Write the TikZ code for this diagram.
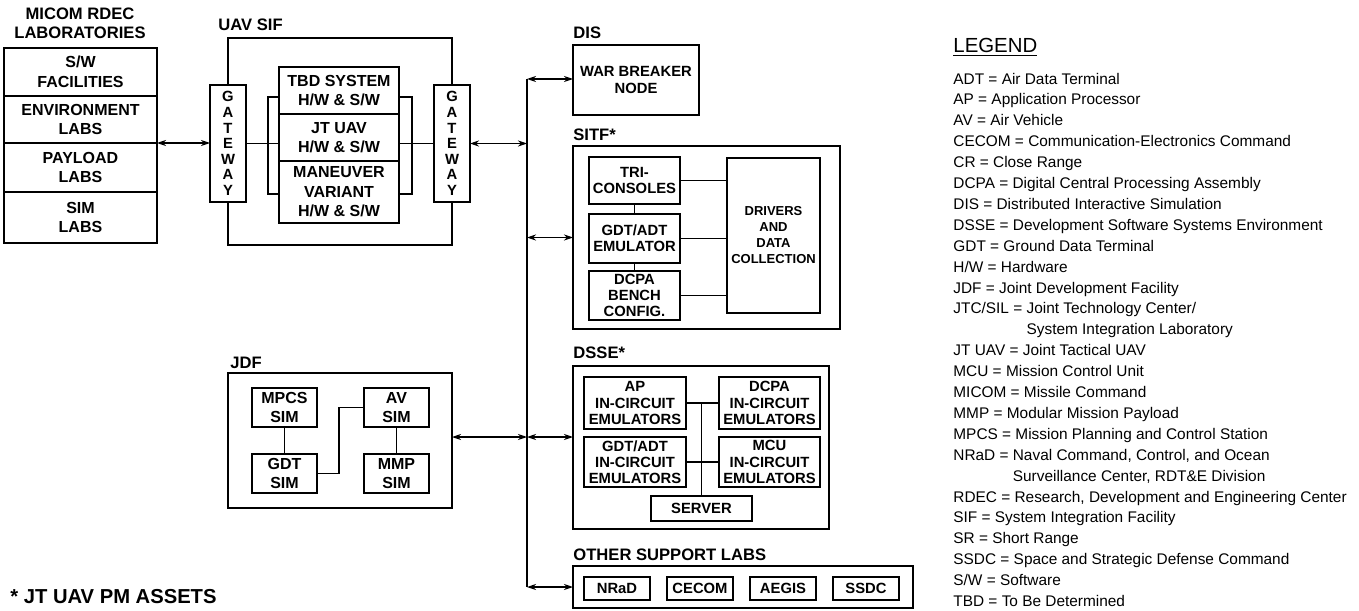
\documentclass[tikz,border=0pt]{standalone}
\usepackage{fontspec}
\setmainfont{Liberation Sans}
\usetikzlibrary{arrows.meta,positioning}

\newcommand{\ttlfont}{\fontsize{8.3}{9.6}\selectfont\bfseries}
\newcommand{\labfont}{\fontsize{8}{9.8}\selectfont\bfseries}
\newcommand{\boxfont}{\fontsize{7.4}{8.1}\selectfont\bfseries}
\newcommand{\gatefont}{\fontsize{7.4}{7.8}\selectfont\bfseries}
\newcommand{\drvfont}{\fontsize{6.5}{8}\selectfont\bfseries}
\newcommand{\legfont}{\fontsize{7.7}{10.45}\selectfont}

\begin{document}
\begin{tikzpicture}[x=0.5pt, y=-0.5pt,
  ttl/.style={anchor=west, font=\ttlfont, inner sep=0pt},
  grp/.style={draw, line width=0.75pt, inner sep=0pt, outer sep=0pt},
  unit/.style={draw, line width=0.75pt, fill=white, align=center,
               inner sep=0pt, outer sep=0pt, font=\boxfont},
  labcell/.style={unit, minimum width=76.5pt, font=\labfont},
  wire/.style={line width=0.55pt},
  arr/.style={{Stealth[length=4.5pt,width=3pt]}-{Stealth[length=4.5pt,width=3pt]},
              line width=0.55pt}
]
\useasboundingbox (0,0) rectangle (1359,610);

% MICOM RDEC labs
\node[font=\ttlfont, align=center, inner sep=0pt] (micomttl) at (80,23)
  {MICOM RDEC\\LABORATORIES};
\node[labcell, minimum height=24pt] (sw) at (80.5,72) {S/W\\FACILITIES};
\node[labcell, minimum height=23.5pt, below=0pt of sw] (env) {ENVIRONMENT\\LABS};
\node[labcell, minimum height=24.5pt, below=0pt of env] (pay) {PAYLOAD\\LABS};
\node[labcell, minimum height=25.5pt, below=0pt of pay] (sim) {SIM\\LABS};

% UAV SIF
\node[ttl] (uavttl) at (218,25) {UAV SIF};
\node[grp, minimum width=112pt, minimum height=103.5pt] (uav) at (340,141.5) {};
\node[unit, minimum width=18pt, minimum height=58.5pt, font=\gatefont] (gwl) at (228,143.5)
  {G\\A\\T\\E\\W\\A\\Y};
\node[unit, minimum width=18pt, minimum height=58.5pt, font=\gatefont] (gwr) at (452,143.5)
  {G\\A\\T\\E\\W\\A\\Y};
\node[unit, minimum width=60pt, minimum height=23.5pt, font=\labfont] (tbd) at (339,90.5)
  {TBD SYSTEM\\H/W \& S/W};
\node[unit, minimum width=60pt, minimum height=23.5pt, font=\labfont, below=0pt of tbd] (jtuav)
  {JT UAV\\H/W \& S/W};
\node[unit, minimum width=60pt, minimum height=31pt, font=\labfont, below=0pt of jtuav] (manv)
  {MANEUVER\\VARIANT\\H/W \& S/W};
\draw[wire] (tbd.west |- 0,97) -- (268,97) -- (268,194) -- (manv.west |- 0,194);
\draw[wire] (tbd.east |- 0,97) -- (412,97) -- (412,194) -- (manv.east |- 0,194);
\draw[wire] (gwl.east) -- (gwl.east -| jtuav.west);
\draw[wire] (jtuav.east |- gwr.west) -- (gwr.west);
\draw[arr] (env.south east) -- (env.south east -| gwl.west);

% bus
\coordinate (bus) at (527,79);
\coordinate (busend) at (527,587);
\draw[wire] (bus) -- (busend);
\draw[arr] (gwr.east) -- (gwr.east -| bus);

% DIS
\node[ttl] (disttl) at (573,33) {DIS};
\node[unit, minimum width=63pt, minimum height=35pt] (dis) at (636,80) {WAR BREAKER\\NODE};
\draw[arr] (bus) -- (bus -| dis.west);

% SITF
\node[ttl] (sitfttl) at (573,135) {SITF*};
\node[grp, minimum width=133.5pt, minimum height=91.5pt] (sitf) at (706.5,237.5) {};
\node[unit, minimum width=45.5pt, minimum height=23.5pt] (tri) at (634.5,180.5) {TRI-\\CONSOLES};
\node[unit, minimum width=45.5pt, minimum height=24.5pt, below=5pt of tri] (gdtemu)
  {GDT/ADT\\EMULATOR};
\node[unit, minimum width=45.5pt, minimum height=24.5pt, below=4pt of gdtemu] (bench)
  {DCPA\\BENCH\\CONFIG.};
\node[unit, minimum width=46.5pt, minimum height=77.5pt, font=\drvfont] (drv) at (773.5,235.5)
  {DRIVERS\\AND\\DATA\\COLLECTION};
\draw[wire] (tri.south) -- (gdtemu.north);
\draw[wire] (gdtemu.south) -- (bench.north);
\draw[wire] (tri.east) -- (tri.east -| drv.west);
\draw[wire] (gdtemu.east) -- (gdtemu.east -| drv.west);
\draw[wire] (bench.east) -- (bench.east -| drv.west);
\draw[arr] (bus |- sitf.west) -- (sitf.west);

% DSSE
\node[ttl] (dssettl) at (573,353) {DSSE*};
\node[grp, minimum width=128pt, minimum height=81.5pt] (dsse) at (701,447.5) {};
\node[unit, minimum width=51pt, minimum height=26pt] (apice) at (635,403)
  {AP\\IN-CIRCUIT\\EMULATORS};
\node[unit, minimum width=50.5pt, minimum height=26pt] (dcpaice) at (769.5,403)
  {DCPA\\IN-CIRCUIT\\EMULATORS};
\node[unit, minimum width=51pt, minimum height=25pt, below=4pt of apice] (gdtice)
  {GDT/ADT\\IN-CIRCUIT\\EMULATORS};
\node[unit, minimum width=50.5pt, minimum height=25pt, below=4pt of dcpaice] (mcuice)
  {MCU\\IN-CIRCUIT\\EMULATORS};
\node[unit, minimum width=50.5pt, minimum height=12.5pt] (server) at (701.5,508.5) {SERVER};
\draw[wire] (apice.east) -- (dcpaice.west);
\draw[wire] (gdtice.east) -- (mcuice.west);
\draw[wire] (server.north |- apice.east) -- (server.north);
\draw[arr] (bus |- 0,437) -- (dsse.west |- 0,437);

% JDF
\node[ttl] (jdfttl) at (230,363) {JDF};
\node[grp, minimum width=112pt, minimum height=67.5pt] (jdf) at (340,440.5) {};
\node[unit, minimum width=32.5pt, minimum height=19.5pt, font=\labfont] (mpcs) at (284.5,407.5)
  {MPCS\\SIM};
\node[unit, minimum width=32.5pt, minimum height=19.5pt, font=\labfont, below=13.5pt of mpcs] (gdtsim)
  {GDT\\SIM};
\node[unit, minimum width=32.5pt, minimum height=19.5pt, font=\labfont] (avsim) at (396.5,407.5)
  {AV\\SIM};
\node[unit, minimum width=32.5pt, minimum height=19.5pt, font=\labfont, below=13.5pt of avsim] (mmpsim)
  {MMP\\SIM};
\draw[wire] (mpcs) -- (gdtsim);
\draw[wire] (avsim) -- (mmpsim);
\draw[wire] (gdtsim.east) -- ++(22,0) |- (avsim.west);
\draw[arr] (jdf.east |- 0,437) -- (bus |- 0,437);

% other support labs
\node[ttl] (othttl) at (573,555) {OTHER SUPPORT LABS};
\node[grp, minimum width=170pt, minimum height=21pt] (other) at (743,587) {};
\node[unit, minimum width=33pt, minimum height=11.5pt] (nrad) at (617,588.5) {NRaD};
\node[unit, minimum width=33pt, minimum height=11.5pt, right=8.5pt of nrad] (cecom) {CECOM};
\node[unit, minimum width=33pt, minimum height=11.5pt, right=8.5pt of cecom] (aegis) {AEGIS};
\node[unit, minimum width=33pt, minimum height=11.5pt, right=8.5pt of aegis] (ssdc) {SSDC};
\draw[arr] (busend) -- (busend -| other.west);

\node[anchor=west, inner sep=0pt, font=\fontsize{10.1}{12}\selectfont\bfseries] (note) at (10,597)
  {* JT UAV PM ASSETS};

% legend
\node[anchor=base west, inner sep=0pt, font=\fontsize{10.2}{12}\selectfont] (legttl) at (953,52.7)
  {\underline{LEGEND}};
\node[anchor=north west, inner sep=0pt, align=left, font=\legfont] (legtext) at (953,72.5)
  {ADT = Air Data Terminal\\
   AP = Application Processor\\
   AV = Air Vehicle\\
   CECOM = Communication-Electronics Command\\
   CR = Close Range\\
   DCPA = Digital Central Processing Assembly\\
   DIS = Distributed Interactive Simulation\\
   DSSE = Development Software Systems Environment\\
   GDT = Ground Data Terminal\\
   H/W = Hardware\\
   JDF = Joint Development Facility\\
   JTC/SIL = Joint Technology Center/\\
   \phantom{JTC/SIL = }System Integration Laboratory\\
   JT UAV = Joint Tactical UAV\\
   MCU = Mission Control Unit\\
   MICOM = Missile Command\\
   MMP = Modular Mission Payload\\
   MPCS = Mission Planning and Control Station\\
   NRaD = Naval Command, Control, and Ocean\\
   \phantom{NRaD = }Surveillance Center, RDT\&E Division\\
   RDEC = Research, Development and Engineering Center\\
   SIF = System Integration Facility\\
   SR = Short Range\\
   SSDC = Space and Strategic Defense Command\\
   S/W = Software\\
   TBD = To Be Determined};
\end{tikzpicture}
\end{document}
